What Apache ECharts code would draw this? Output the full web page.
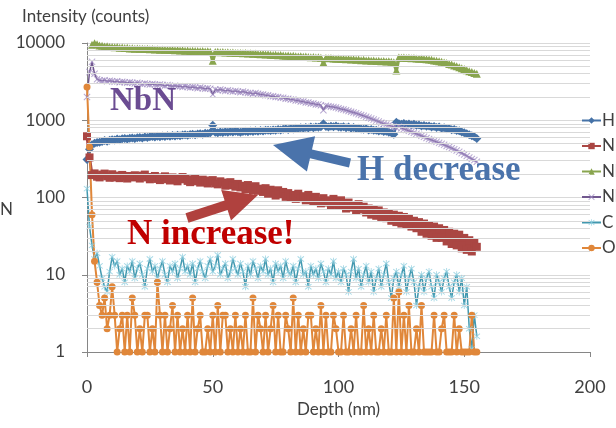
<!DOCTYPE html>
<html>
<head>
<meta charset="utf-8">
<script src="https://cdn.jsdelivr.net/npm/echarts@6/dist/echarts.min.js"></script>
<style>
html,body{margin:0;padding:0;background:#fff;}
#chart{width:616px;height:428px;}
</style>
</head>
<body>
<div id="chart"></div>
<script>
// Depth (nm)
const depth = [
0,1,2,3,4,5,6,7,8,9,
10,11,12,13,14,15,16,17,18,19,
20,21,22,23,24,25,26,27,28,29,
30,31,32,33,34,35,36,37,38,39,
40,41,42,43,44,45,46,47,48,49,
50,51,52,53,54,55,56,57,58,59,
60,61,62,63,64,65,66,67,68,69,
70,71,72,73,74,75,76,77,78,79,
80,81,82,83,84,85,86,87,88,89,
90,91,92,93,94,95,96,97,98,99,
100,101,102,103,104,105,106,107,108,109,
110,111,112,113,114,115,116,117,118,119,
120,121,122,123,124,125,126,127,128,129,
130,131,132,133,134,135,136,137,138,139,
140,141,142,143,144,145,146,147,148,149,
150,151,152,153,154,155];

const H = [
310,420,480,505,515,520,530,545,535,550,
560,555,570,560,575,580,570,585,590,580,
595,600,590,605,600,610,615,605,620,610,
625,615,630,620,635,625,640,630,645,650,
640,655,660,650,665,670,660,680,675,690,
860,700,690,705,695,710,700,715,705,720,
710,700,715,720,710,725,715,730,720,735,
725,740,745,735,750,745,760,750,765,775,
760,780,770,790,780,800,790,805,795,815,
800,820,810,825,900,830,820,835,825,840,
820,810,825,800,815,790,805,780,790,770,
765,775,750,760,740,745,725,735,715,720,
700,690,660,940,900,890,905,880,895,870,
885,860,870,845,855,835,845,820,830,805,
815,790,800,775,780,755,760,735,730,705,
690,670,650,630,610,580];

const N = [
620,330,195,205,186,182,198,204,188,180,
200,182,192,178,196,186,176,190,182,194,
186,176,192,198,182,172,184,190,174,168,
182,188,172,166,182,176,162,172,184,174,
164,158,172,178,162,156,170,166,152,162,
168,152,148,162,156,142,152,158,144,138,
150,135,142,128,145,132,124,140,122,130,
118,132,112,126,120,106,124,110,118,102,
114,100,108,96,112,98,104,92,108,94,
88,102,90,84,98,86,92,80,96,84,
78,92,80,72,86,74,80,68,82,70,
76,64,72,60,70,58,68,56,64,54,
62,50,60,48,58,46,56,44,54,42,
50,40,48,36,46,34,44,32,42,30,
40,30,38,27,36,25,34,24,33,22,
30,21,28,20,26,23];

const Nb = [
null,null,9500,9900,9600,9300,9200,9000,9100,8900,
8900,8800,8850,8700,8750,8600,8650,8500,8550,8450,
8500,8400,8450,8350,8400,8300,8350,8250,8300,8200,
8250,8150,8200,8100,8150,8050,8100,8000,8050,7950,
8000,7900,7950,7850,7900,7800,7850,7750,7800,7700,
5900,7650,7700,7600,7650,7550,7600,7500,7550,7450,
7400,7450,7350,7400,7300,7350,7250,7300,7200,7150,
7200,7100,7150,7050,7000,7050,6950,7000,6900,6850,
6900,6800,6850,6750,6700,6750,6650,6700,6600,6550,
6600,6500,6550,6450,5600,6400,6350,6400,6300,6250,
6300,6200,6250,6150,6200,6100,6150,6050,6100,6000,
6050,5950,6000,5900,5950,5850,5900,5800,5850,5750,
5800,5700,5650,4400,6500,6450,6500,6400,6450,6350,
6400,6300,6250,6300,6200,6150,6100,6050,5950,5900,
5800,5700,5600,5500,5350,5250,5100,5000,4850,4700,
4600,4450,4300,4200,4100,4000];

const NbN = [
2000,4200,5700,4000,3400,3300,3250,3300,3200,3250,
3200,3150,3200,3100,3150,3100,3050,3100,3050,3000,
3050,3000,2950,3000,2950,2900,2950,2900,2850,2900,
2850,2800,2850,2800,2750,2800,2750,2750,2700,2750,
2700,2650,2700,2650,2600,2650,2600,2550,2600,2550,
2150,2500,2450,2500,2450,2400,2450,2400,2350,2400,
2350,2300,2350,2300,2250,2250,2200,2250,2200,2150,
2150,2100,2100,2050,2050,2000,2000,1950,1950,1900,
1900,1850,1850,1800,1800,1750,1750,1700,1700,1650,
1650,1600,1600,1560,1350,1540,1520,1500,1480,1460,
1430,1400,1380,1350,1320,1290,1260,1230,1200,1170,
1140,1110,1080,1050,1020,990,960,930,900,880,
860,840,820,800,830,790,770,750,730,710,
690,670,650,630,610,590,570,555,540,525,
510,495,480,465,450,435,420,405,390,375,
360,345,330,315,305,290];

const C = [
130,42,24,16,19,13,9,7,6,11,
17,13,15,10,12,8,13,11,15,9,
12,14,10,7,12,16,11,13,9,12,
15,10,8,13,11,14,9,12,17,11,
13,10,14,8,12,15,11,9,13,16,
11,13,18,10,12,14,9,11,16,12,
10,14,11,7,13,10,15,12,9,13,
11,16,10,12,8,14,11,13,9,15,
11,10,13,8,12,16,10,11,7,13,
10,12,9,14,11,8,12,10,15,9,
11,8,12,10,6,11,16,9,12,7,
10,13,8,11,6,9,12,7,10,14,
8,5,9,11,7,10,13,6,9,12,
8,4,7,10,6,9,11,7,5,10,
8,6,9,11,7,5,8,10,6,9,
4,7,2,1.1,3,1.6];

const O = [
2700,450,60,15,8,4,3,5,2,3,
7,3,1,2,3,1,3,1,5,3,
1,2,1,3,3,1,2,1,8,3,
1,3,1,2,4,1,3,1,2,1,
3,1,5,1,2,3,1,1,2,1,
3,1,4,1,3,3,1,2,1,3,
1,2,1,3,1,1,5,1,3,2,
1,3,1,2,4,1,3,1,1,3,
2,1,5,1,3,1,2,1,3,3,
1,2,1,4,1,3,1,1,3,2,
1,1,3,1,1,2,1,3,1,1,
4,1,2,1,3,1,1,2,1,3,
1,1,5,1,6,1,3,1,4,1,
1,2,1,4,1,1,1,1,3,1,
1,2,3,1,1,1,3,1,2,1,
1,1,1,3,1,1];

const seriesNames = ['H','N','Nb','NbN','C','O'];
const xTicks = [0,50,100,150,200];
const minorGrid = [2,3,4,5,6,7,8,9,20,30,40,50,60,70,80,90,200,300,400,500,600,700,800,900,2000,3000,4000,5000,6000,7000,8000,9000];

const pair = arr => depth.map((d,i) => [d, arr[i]]);

const XMARK = 'path://M1,0L5,4L9,0L10,1L6,5L10,9L9,10L5,6L1,10L0,9L4,5L0,1Z';
const STAR = 'path://M1,0L5,4L9,0L10,1L6,5L10,9L9,10L5,6L1,10L0,9L4,5L0,1Z M4.4,-1L5.6,-1L5.6,11L4.4,11Z';

const axisFont = 'Lato, "Liberation Sans", sans-serif';
const textCol = '#404040';

const chart = echarts.init(document.getElementById('chart'), null, {renderer:'canvas'});
chart.setOption({
  animation: false,
  backgroundColor: '#ffffff',
  grid: {left: 87, right: 26, top: 43, bottom: 76},
  xAxis: {
    type: 'value', min: xTicks[0], max: xTicks[xTicks.length-1], interval: 50,
    name: 'Depth (nm)', nameLocation: 'middle', nameGap: 49,
    nameTextStyle: {fontFamily: axisFont, fontSize: 17, color: textCol},
    axisLine: {show: true, lineStyle: {color: '#868686', width: 1}},
    axisTick: {show: true, length: 5, inside: false, lineStyle: {color: '#868686'}},
    axisLabel: {margin: 26, fontFamily: axisFont, fontSize: 18, color: textCol},
    splitLine: {show: false}
  },
  yAxis: {
    type: 'log', logBase: 10, min: 1, max: 10000, splitNumber: 4,
    axisLine: {show: true, lineStyle: {color: '#868686', width: 1}},
    axisTick: {show: true, length: 5, lineStyle: {color: '#868686'}},
    axisLabel: {margin: 22, fontFamily: axisFont, fontSize: 17, color: textCol,
      formatter: v => String(Math.round(v))},
    splitLine: {show: true, lineStyle: {color: '#d9d9d9', width: 1}}
  },
  legend: {
    data: seriesNames,
    orient: 'vertical', left: 576, top: 107,
    itemWidth: 19, itemHeight: 8, itemGap: 8.5,
    textStyle: {fontFamily: axisFont, fontSize: 17, color: textCol, padding: [0,0,0,-4]},
    selectedMode: false
  },
  series: [
    {
      name: '_grid', type: 'line', data: [], silent: true, z: 0,
      markLine: {
        silent: true, symbol: ['none','none'], label: {show: false},
        lineStyle: {color: '#d9d9d9', type: 'solid', width: 1},
        emphasis: {disabled: true},
        data: minorGrid.map(v => ({yAxis: v}))
      }
    },
    {
      name: 'H', type: 'line', data: pair(H), symbol: 'diamond', symbolSize: 9, showAllSymbol: true,
      lineStyle: {color: '#4572a7', width: 3}, itemStyle: {color: '#4572a7'}
    },
    {
      name: 'N', type: 'line', data: pair(N), symbol: 'rect', symbolSize: 8, showAllSymbol: true,
      lineStyle: {color: '#aa4643', width: 3}, itemStyle: {color: '#aa4643'}
    },
    {
      name: 'Nb', type: 'line', data: pair(Nb), symbol: 'triangle', symbolSize: 8, showAllSymbol: true,
      lineStyle: {color: '#89a54e', width: 3.5}, itemStyle: {color: '#89a54e'}
    },
    {
      name: 'NbN', type: 'line', data: pair(NbN), symbol: XMARK, symbolSize: 7, showAllSymbol: true,
      lineStyle: {color: '#71588f', width: 1.5}, itemStyle: {color: 'rgba(160,140,195,0.75)'}
    },
    {
      name: 'C', type: 'line', data: pair(C), symbol: STAR, symbolSize: 7, showAllSymbol: true,
      lineStyle: {color: '#4198af', width: 1.5}, itemStyle: {color: 'rgba(140,205,222,0.8)'}
    },
    {
      name: 'O', type: 'line', data: pair(O), symbol: 'circle', symbolSize: 7, showAllSymbol: true,
      lineStyle: {color: '#e0873a', width: 2}, itemStyle: {color: '#e0873a'}
    }
  ],
  graphic: [
    {type: 'text', z: 100, left: 22, top: 8, style: {text: 'Intensity (counts)', font: '17px ' + axisFont, fill: textCol}},
    {type: 'text', z: 100, left: 0, top: 201, style: {text: 'N', font: '17px ' + axisFont, fill: textCol}},
    {type: 'text', z: 100, x: 110, y: 101, style: {text: 'NbN', font: 'bold 33px "Liberation Serif", serif', fill: '#6b4c92', textAlign: 'left', textVerticalAlign: 'middle', verticalAlign: 'middle'}},
    {type: 'text', z: 100, x: 357, y: 171, style: {text: 'H decrease', font: 'bold 35px "Liberation Serif", serif', fill: '#4a73ab', textAlign: 'left', textVerticalAlign: 'middle', verticalAlign: 'middle'}},
    {type: 'text', z: 100, x: 127, y: 235, style: {text: 'N increase!', font: 'bold 35px "Liberation Serif", serif', fill: '#c00000', textAlign: 'left', textVerticalAlign: 'middle', verticalAlign: 'middle'}},
    {type: 'polygon', z: 100, shape: {points: [[273,145],[315.1,136.3],[312,149.5],[351,158.6],[349,167.4],[310,158.3],[306.9,171.5]]}, style: {fill: '#4a73ab'}},
    {type: 'polygon', z: 100, shape: {points: [[258,195],[221.2,190.1],[224.6,200.5],[185.5,213.2],[188.5,222.8],[227.6,210.1],[231,220.5]]}, style: {fill: '#b0413e'}}
  ]
});
</script>
</body>
</html>
